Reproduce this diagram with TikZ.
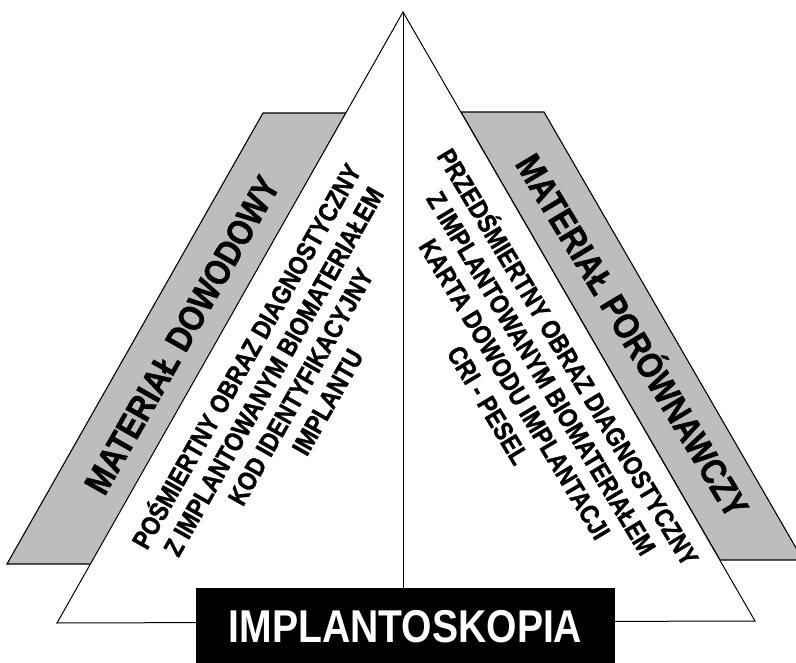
\documentclass[tikz,border=0pt]{standalone}
\usepackage{fontspec}
\newfontfamily\condsans[FakeStretch=0.85]{Liberation Sans}
\newfontfamily\heavysans[FakeStretch=0.85, BoldFeatures={FakeBold=1.2}]{Liberation Sans}
\begin{document}
\begin{tikzpicture}[x=1pt,y=-1pt,
  band/.style={fill=black!26, draw=black, line width=1.1pt, line join=miter},
  edge/.style={draw=black, line width=1pt},
  bandlabel/.style={font=\heavysans\bfseries\fontsize{36}{40}\selectfont, inner sep=0pt},
  infotext/.style={font=\heavysans\bfseries\fontsize{26.5}{31}\selectfont, align=center, inner sep=0pt},
  titlebox/.style={fill=black, text=white, minimum width=419pt, minimum height=78pt,
    inner sep=0pt, font=\condsans\bfseries\fontsize{46}{50}\selectfont}]
\useasboundingbox (0,0) rectangle (796,663);
\clip (0,0) rectangle (796,663);

% corners of the pyramid
\coordinate (apex) at (403,12);
\coordinate (bl) at (57,623);
\coordinate (br) at (755,621);

% grey side bands lying behind the pyramid
\draw[band] (263,113) -- (346,113) -- (91,564) -- (7,564) -- cycle;
\draw[band] (461,112) -- (544,112) -- (803,560) -- (720,560) -- cycle;

% the pyramid itself
\draw[edge, fill=white] (apex) -- (bl) -- (br) -- cycle;

% base label
\node[titlebox] (box) at (405.5,627) {IMPLANTOSKOPIA};

% dividing line
\draw[edge] (apex) -- (apex |- box.north);

% band captions
\node[bandlabel, rotate=60.5] (evid) at (182,335) {MATERIAŁ DOWODOWY};
\node[bandlabel, rotate=-59] (comp) at (635,334) {MATERIAŁ PORÓWNAWCZY};

% contents of each half
\node[infotext, rotate=60.5] (postmortem) at (285,378)
  {POŚMIERTNY OBRAZ DIAGNOSTYCZNY\\Z IMPLANTOWANYM BIOMATERIAŁEM\\KOD IDENTYFIKACYJNY\\IMPLANTU};
\node[infotext, rotate=-59] (antemortem) at (530,380)
  {PRZEDŚMIERTNY OBRAZ DIAGNOSTYCZNY\\Z IMPLANTOWANYM BIOMATERIAŁEM\\KARTA DOWODU IMPLANTACJI\\CRI - PESEL};
\end{tikzpicture}
\end{document}
